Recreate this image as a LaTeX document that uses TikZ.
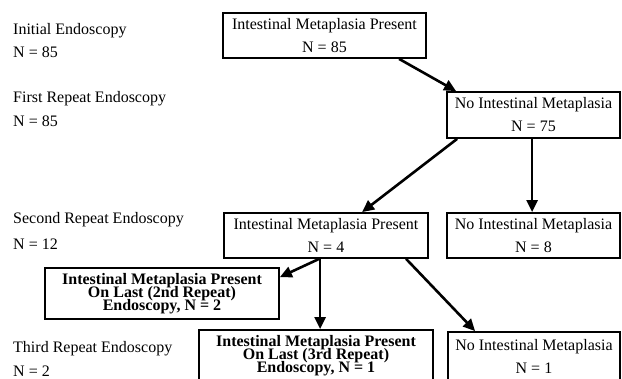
\documentclass[tikz,border=0pt]{standalone}
\usepackage{fontspec}
\setmainfont{Liberation Serif}
\usetikzlibrary{arrows.meta}
\newcommand{\tightlines}{\lineskiplimit=-30pt\relax\lineskip=0pt\relax}
\tikzset{
  box/.style={draw, line width=1.8pt, inner sep=0pt, align=center, font=\fontsize{16}{23}\selectfont},
  boldbox/.style={box, font=\bfseries\fontsize{16}{13}\selectfont\tightlines},
  lbl/.style={anchor=west, inner sep=0pt, font=\fontsize{16}{19}\selectfont},
  arr/.style={line width=2.6pt, -{Triangle[length=12pt,width=11pt]}}
}
\begin{document}
\begin{tikzpicture}[x=1pt,y=-1pt]
\useasboundingbox (0,0) rectangle (622,379);
% left labels
\node[lbl] (l1) at (13,30.5) {Initial Endoscopy};
\node[lbl] (l2) at (13,52.5) {N = 85};
\node[lbl] (l3) at (13,98.5) {First Repeat Endoscopy};
\node[lbl] (l4) at (13,121.5) {N = 85};
\node[lbl] (l5) at (13,220) {Second Repeat Endoscopy};
\node[lbl] (l6) at (13,244.5) {N = 12};
\node[lbl] (l7) at (13,348.5) {Third Repeat Endoscopy};
\node[lbl] (l8) at (13,371.5) {N = 2};
% boxes
\node[box, minimum width=203pt, minimum height=45pt] (A) at (324.5,35.5) {Intestinal Metaplasia Present\\N = 85};
\node[box, minimum width=173pt, minimum height=46pt] (B) at (533.5,115) {No Intestinal Metaplasia\\N = 75};
\node[box, minimum width=204pt, minimum height=45pt] (C) at (326,235.5) {Intestinal Metaplasia Present\\N = 4};
\node[box, minimum width=173pt, minimum height=45pt] (D) at (533.5,235.5) {No Intestinal Metaplasia\\N = 8};
\node[boldbox, minimum width=234pt, minimum height=51pt] (E) at (162,293.5) {Intestinal Metaplasia Present\\On Last (2nd Repeat)\\Endoscopy, N = 2};
\node[boldbox, minimum width=234pt, minimum height=51pt] (F) at (316,355.5) {Intestinal Metaplasia Present\\On Last (3rd Repeat)\\Endoscopy, N = 1};
\node[box, minimum width=172pt, minimum height=49pt] (G) at (534,356.5) {No Intestinal Metaplasia\\N = 1};
% arrows
\draw[arr] ([xshift=177pt]A.south west) -- ([xshift=10pt]B.north west);
\draw[arr] ([xshift=11pt]B.south west) -- ([xshift=139pt]C.north west);
\draw[arr] ([xshift=86pt]B.south west) -- ([xshift=86pt]D.north west);
\draw[arr] ([xshift=96pt]C.south west) -- ([yshift=-10pt]E.north east);
\draw[arr] ([xshift=97pt]C.south west) -- ([xshift=122pt]F.north west);
\draw[arr] ([xshift=183pt]C.south west) -- ([xshift=28pt]G.north west);
\end{tikzpicture}
\end{document}
